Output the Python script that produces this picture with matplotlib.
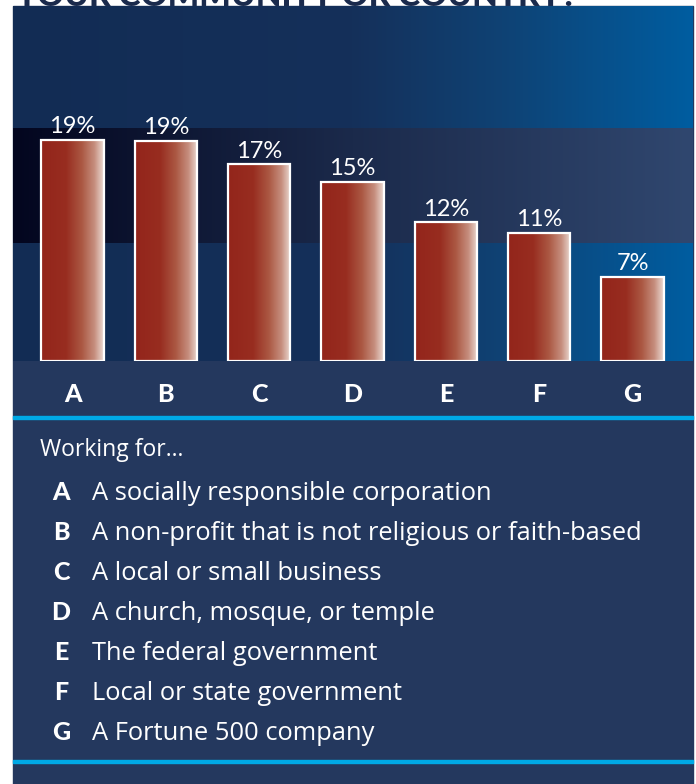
import numpy as np
import matplotlib
matplotlib.use('Agg')
import matplotlib.pyplot as plt
from matplotlib.colors import LinearSegmentedColormap
from matplotlib.patches import Rectangle

plt.rcParams['font.family'] = ['Lato', 'DejaVu Sans']

# data
categories = ['A', 'B', 'C', 'D', 'E', 'F', 'G']
shares = [19.0, 18.9, 16.9, 15.4, 11.9, 11.0, 7.2]
pct_labels = ['19%', '19%', '17%', '15%', '12%', '11%', '7%']
descriptions = ['A socially responsible corporation',
                'A non-profit that is not religious or faith-based',
                'A local or small business',
                'A church, mosque, or temple',
                'The federal government',
                'Local or state government',
                'A Fortune 500 company']
title = 'YOUR COMMUNITY OR COUNTRY?'
legend_title = 'Working for...'

# colours
navy = '#24385e'
cyan = '#00a9e6'
bg_cmap = LinearSegmentedColormap.from_list(
    'bg', [(0, '#122c54'), (0.5, '#15305a'), (0.72, '#0f4274'), (1, '#005da0')])
band_cmap = LinearSegmentedColormap.from_list(
    'band', [(0, '#03061f'), (0.5, '#1b2a4b'), (1, '#30476f')])
bar_cmap = LinearSegmentedColormap.from_list(
    'bar', [(0, '#93251b'), (0.4, '#982d20'), (0.65, '#ab5843'), (0.85, '#c68e7e'), (1, '#ecdcd5')])
grad = np.linspace(0, 1, 256)[None, :]

W, H = 696, 784
fig = plt.figure(figsize=(W / 100, H / 100), dpi=100)

# page-level axes in pixel coordinates
bg = fig.add_axes([0, 0, 1, 1])
bg.set_xlim(0, W)
bg.set_ylim(H, 0)
bg.axis('off')
bg.text(15, 6, title, fontsize=24, fontweight='black', color='#1a2a4c', va='baseline', zorder=0)
bg.add_patch(Rectangle((13, 6), 680, 780, color=navy, zorder=1))
bg.add_patch(Rectangle((13, 416), 680, 3, color=cyan, zorder=2))
bg.add_patch(Rectangle((13, 760), 680, 3, color=cyan, zorder=2))

# legend
sans = ['Open Sans', 'DejaVu Sans']
bg.text(40, 456, legend_title, fontsize=16.5, color='white', va='baseline', zorder=3, family=sans)
for i, (cat, desc) in enumerate(zip(categories, descriptions)):
    y = 500 + 40 * i
    bg.text(61, y, cat, fontsize=18, fontweight='black', color='white', ha='center', va='baseline', zorder=3)
    bg.text(92, y, desc, fontsize=18.4, color='white', va='baseline', zorder=3, family=sans)

# bar chart
ax = fig.add_axes([13 / W, (H - 361) / H, 680 / W, 355 / H])
x = np.arange(len(categories))
ax.imshow(grad, cmap=bg_cmap, extent=(0, 1, 0, 1), transform=ax.transAxes, aspect='auto', zorder=0)
ax.imshow(grad, cmap=band_cmap, extent=(0, 1, 0.332, 0.654), transform=ax.transAxes, aspect='auto', zorder=1)

bars = ax.bar(x, shares, width=0.665, facecolor='none', edgecolor='white', linewidth=1.6, zorder=3)
for b in bars:
    im = ax.imshow(grad, cmap=bar_cmap, aspect='auto', zorder=2,
                   extent=(b.get_x(), b.get_x() + b.get_width(), 0, b.get_height()))
    im.set_clip_path(b)

for xi, v, lbl in zip(x, shares, pct_labels):
    ax.annotate(lbl, (xi, v), xytext=(0, 2), textcoords='offset points',
                ha='center', va='bottom', color='white', fontsize=17)

ax.set_xlim(-0.6375, 6.648)
ax.set_ylim(0, 30.5)
ax.set_xticks(x, categories)
ax.set_yticks([])
ax.tick_params(axis='x', length=0, pad=16, labelsize=18, labelcolor='white')
for t in ax.get_xticklabels():
    t.set_fontweight('black')
for s in ax.spines.values():
    s.set_visible(False)

fig.savefig('out.png', dpi=100)
